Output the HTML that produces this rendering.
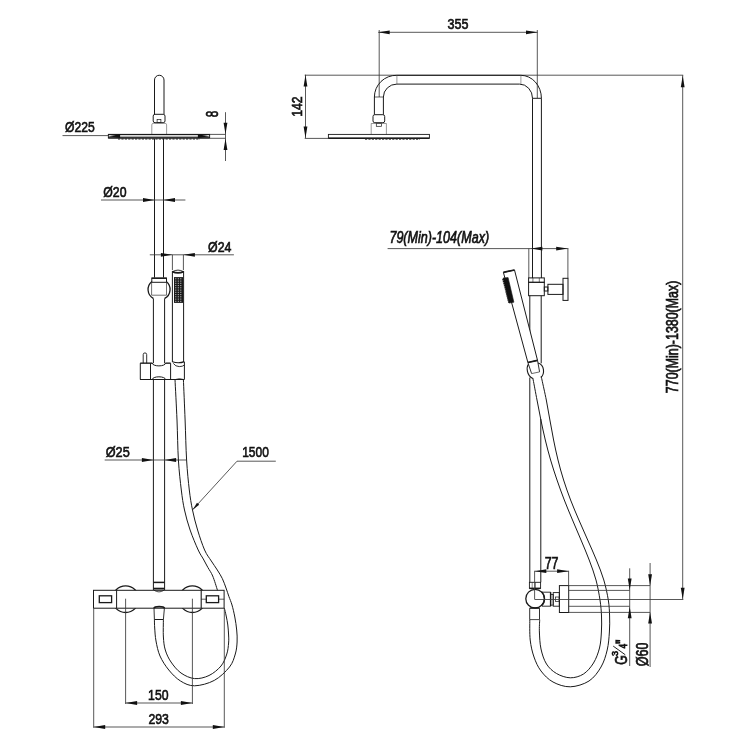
<!DOCTYPE html>
<html><head><meta charset="utf-8"><style>
html,body{margin:0;padding:0;background:#fff;}
svg{display:block;will-change:transform;}
text{font-family:"Liberation Sans",sans-serif;}
</style></head><body>
<svg width="746" height="746" viewBox="0 0 746 746">
<rect width="746" height="746" fill="#fff"/>
<path d="M154.5,114.3 V80 A4.75,4.75 0 0 1 164,80 V114.3" stroke="#1a1a1a" stroke-width="1.0" fill="none"/>
<rect x="153.2" y="114.3" width="11.8" height="8.4" rx="1.8" stroke="#1a1a1a" stroke-width="1.0" fill="none"/>
<rect x="157.1" y="119.6" width="3.8" height="2.8" rx="0" stroke="#1a1a1a" stroke-width="0.7" fill="none"/>
<path d="M151.8,134.1 V124.8 Q151.8,123.4 153.2,123.4 H165.2 Q166.6,123.4 166.6,124.8 V134.1" stroke="#555" stroke-width="0.6" fill="none"/>
<rect x="108.4" y="134.4" width="101.2" height="3.6" rx="0" stroke="#1a1a1a" stroke-width="1.0" fill="none"/>
<line x1="108.4" y1="134.5" x2="209.6" y2="134.5" stroke="#1a1a1a" stroke-width="1.2"/>
<line x1="108.4" y1="137.8" x2="209.6" y2="137.8" stroke="#1a1a1a" stroke-width="1.3"/>
<line x1="118" y1="139" x2="200" y2="139" stroke="#222" stroke-width="1" stroke-dasharray="2.2 1.2"/>
<line x1="62.5" y1="135.6" x2="108.3" y2="135.6" stroke="#3a3a3a" stroke-width="0.85"/>
<line x1="108.3" y1="136.2" x2="209.6" y2="136.2" stroke="#555" stroke-width="0.7"/>
<path d="M108.60,136.20 L120.10,134.30 L120.10,138.10 Z" fill="#111"/>
<path d="M209.40,136.20 L197.90,138.10 L197.90,134.30 Z" fill="#111"/>
<line x1="209.8" y1="134.4" x2="225.5" y2="134.4" stroke="#3a3a3a" stroke-width="0.85"/>
<line x1="209.8" y1="138.3" x2="225.5" y2="138.3" stroke="#3a3a3a" stroke-width="0.85"/>
<line x1="225.5" y1="112.2" x2="225.5" y2="161" stroke="#3a3a3a" stroke-width="0.85"/>
<path d="M225.50,134.20 L223.60,122.70 L227.40,122.70 Z" fill="#111"/>
<path d="M225.50,138.60 L227.40,150.10 L223.60,150.10 Z" fill="#111"/>
<line x1="154.5" y1="138.6" x2="154.5" y2="277.6" stroke="#1a1a1a" stroke-width="1.0"/>
<line x1="163.5" y1="138.6" x2="163.5" y2="277.6" stroke="#1a1a1a" stroke-width="1.0"/>
<line x1="101" y1="200" x2="185.4" y2="200" stroke="#3a3a3a" stroke-width="0.85"/>
<path d="M154.50,200.00 L143.00,201.90 L143.00,198.10 Z" fill="#111"/>
<path d="M163.50,200.00 L175.00,198.10 L175.00,201.90 Z" fill="#111"/>
<line x1="149.8" y1="254.8" x2="233.9" y2="254.8" stroke="#3a3a3a" stroke-width="0.85"/>
<path d="M172.40,254.80 L160.90,256.70 L160.90,252.90 Z" fill="#111"/>
<path d="M183.40,254.80 L194.90,252.90 L194.90,256.70 Z" fill="#111"/>
<line x1="172.4" y1="254.8" x2="172.4" y2="270" stroke="#3a3a3a" stroke-width="0.85"/>
<line x1="183.4" y1="254.8" x2="183.4" y2="270" stroke="#3a3a3a" stroke-width="0.85"/>
<rect x="151.8" y="278" width="14.7" height="4.3" rx="0" stroke="#1a1a1a" stroke-width="1.0" fill="none"/>
<line x1="151.8" y1="278.3" x2="166.5" y2="278.3" stroke="#1a1a1a" stroke-width="1.3"/>
<path d="M151.9,281.4 A10.3,10.3 0 0 0 153.3,298.4" stroke="#1a1a1a" stroke-width="1.3" fill="none"/>
<path d="M166.3,281.4 A10.3,10.3 0 0 1 164.7,298.4" stroke="#1a1a1a" stroke-width="1.3" fill="none"/>
<path d="M151.6,282.3 V295.2 H166.5 V282.3" stroke="#333" stroke-width="0.7" fill="none"/>
<line x1="153.4" y1="298.4" x2="153.4" y2="590.3" stroke="#1a1a1a" stroke-width="1.0"/>
<line x1="164.6" y1="298.4" x2="164.6" y2="590.3" stroke="#1a1a1a" stroke-width="1.0"/>
<path d="M172.4,362 V271" stroke="#1a1a1a" stroke-width="1.0" fill="none"/>
<path d="M183.6,362 V271" stroke="#1a1a1a" stroke-width="1.0" fill="none"/>
<path d="M172.4,271.8 Q178,268.4 183.6,271.8" stroke="#1a1a1a" stroke-width="0.9" fill="none"/>
<path d="M172.4,271.6 Q178,274.3 183.6,271.6" stroke="#1a1a1a" stroke-width="1.8" fill="none"/>
<rect x="174" y="277.1" width="9" height="25.8" rx="0" stroke="#1a1a1a" stroke-width="0" fill="#1a1a1a"/>
<rect x="175.3" y="278.3" width="1.0" height="1.0" fill="#ddd"/>
<rect x="177.8" y="278.3" width="1.0" height="1.0" fill="#ddd"/>
<rect x="180.3" y="278.3" width="1.0" height="1.0" fill="#ddd"/>
<rect x="175.3" y="280.6" width="1.0" height="1.0" fill="#ddd"/>
<rect x="177.8" y="280.6" width="1.0" height="1.0" fill="#ddd"/>
<rect x="180.3" y="280.6" width="1.0" height="1.0" fill="#ddd"/>
<rect x="175.3" y="282.8" width="1.0" height="1.0" fill="#ddd"/>
<rect x="177.8" y="282.8" width="1.0" height="1.0" fill="#ddd"/>
<rect x="180.3" y="282.8" width="1.0" height="1.0" fill="#ddd"/>
<rect x="175.3" y="285.1" width="1.0" height="1.0" fill="#ddd"/>
<rect x="177.8" y="285.1" width="1.0" height="1.0" fill="#ddd"/>
<rect x="180.3" y="285.1" width="1.0" height="1.0" fill="#ddd"/>
<rect x="175.3" y="287.3" width="1.0" height="1.0" fill="#ddd"/>
<rect x="177.8" y="287.3" width="1.0" height="1.0" fill="#ddd"/>
<rect x="180.3" y="287.3" width="1.0" height="1.0" fill="#ddd"/>
<rect x="175.3" y="289.6" width="1.0" height="1.0" fill="#ddd"/>
<rect x="177.8" y="289.6" width="1.0" height="1.0" fill="#ddd"/>
<rect x="180.3" y="289.6" width="1.0" height="1.0" fill="#ddd"/>
<rect x="175.3" y="291.8" width="1.0" height="1.0" fill="#ddd"/>
<rect x="177.8" y="291.8" width="1.0" height="1.0" fill="#ddd"/>
<rect x="180.3" y="291.8" width="1.0" height="1.0" fill="#ddd"/>
<rect x="175.3" y="294.1" width="1.0" height="1.0" fill="#ddd"/>
<rect x="177.8" y="294.1" width="1.0" height="1.0" fill="#ddd"/>
<rect x="180.3" y="294.1" width="1.0" height="1.0" fill="#ddd"/>
<rect x="175.3" y="296.3" width="1.0" height="1.0" fill="#ddd"/>
<rect x="177.8" y="296.3" width="1.0" height="1.0" fill="#ddd"/>
<rect x="180.3" y="296.3" width="1.0" height="1.0" fill="#ddd"/>
<rect x="175.3" y="298.6" width="1.0" height="1.0" fill="#ddd"/>
<rect x="177.8" y="298.6" width="1.0" height="1.0" fill="#ddd"/>
<rect x="180.3" y="298.6" width="1.0" height="1.0" fill="#ddd"/>
<rect x="175.3" y="300.8" width="1.0" height="1.0" fill="#ddd"/>
<rect x="177.8" y="300.8" width="1.0" height="1.0" fill="#ddd"/>
<rect x="180.3" y="300.8" width="1.0" height="1.0" fill="#ddd"/>
<path d="M140.3,363.2 H152.3 A6.6,2.7 0 0 0 165.5,363.2 H170.6 M170.6,379.5 H165.5 A6.6,2.7 0 0 0 152.3,379.5 H140.3 Z" stroke="#1a1a1a" stroke-width="1.0" fill="#fff"/>
<rect x="141" y="363.7" width="43" height="15.3" fill="#fff"/>
<path d="M140.3,363.2 H152.3 A6.6,2.7 0 0 0 165.5,363.2 H170.6" stroke="#1a1a1a" stroke-width="1.0" fill="none"/>
<path d="M140.3,379.5 H152.3 A6.6,2.7 0 0 1 165.5,379.5 H184.4" stroke="#1a1a1a" stroke-width="1.0" fill="none"/>
<path d="M140.3,363.2 V379.5 M184.4,362 V379.5" stroke="#1a1a1a" stroke-width="1.0" fill="none"/>
<line x1="150.5" y1="363.2" x2="150.5" y2="379.5" stroke="#1a1a1a" stroke-width="1.0"/>
<line x1="170.6" y1="363.2" x2="170.6" y2="379.5" stroke="#1a1a1a" stroke-width="1.0"/>
<path d="M143.2,363.2 V354.6 Q143.2,352.9 144.95,352.9 Q146.7,352.9 146.7,354.6 V363.2" stroke="#1a1a1a" stroke-width="0.9" fill="none"/>
<path d="M172.4,361.8 Q178.7,363.8 184.4,361.6" stroke="#1a1a1a" stroke-width="1.2" fill="none"/>
<path d="M173.3,363.4 Q175.5,366.6 179.3,366.6 Q182.8,366.6 184.4,365" stroke="#1a1a1a" stroke-width="0.9" fill="none"/>
<path d="M175.5,379.5 Q179.5,377.6 183.4,379.5" stroke="#1a1a1a" stroke-width="0.7" fill="none"/>
<line x1="104.7" y1="460" x2="186" y2="460" stroke="#3a3a3a" stroke-width="0.85"/>
<path d="M153.40,460.00 L141.90,461.90 L141.90,458.10 Z" fill="#111"/>
<path d="M164.60,460.00 L176.10,458.10 L176.10,461.90 Z" fill="#111"/>
<line x1="237" y1="461.2" x2="275.8" y2="461.2" stroke="#3a3a3a" stroke-width="0.85"/>
<line x1="237" y1="461.2" x2="192.7" y2="509.7" stroke="#3a3a3a" stroke-width="0.85"/>
<path d="M192.70,509.70 L196.99,502.78 L199.20,504.80 Z" fill="#111"/>
<line x1="153.4" y1="582.4" x2="164.6" y2="582.4" stroke="#1a1a1a" stroke-width="1.5"/>
<line x1="153.4" y1="588.6" x2="164.6" y2="588.6" stroke="#1a1a1a" stroke-width="1.8"/>
<circle cx="125.6" cy="599.2" r="13.3" fill="none" stroke="#1a1a1a" stroke-width="1.3"/>
<circle cx="192.4" cy="599.2" r="13.3" fill="none" stroke="#1a1a1a" stroke-width="1.3"/>
<rect x="93.5" y="590.3" width="130.6" height="17.9" rx="0" stroke="#1a1a1a" stroke-width="1.0" fill="#fff"/>
<line x1="116.6" y1="590.3" x2="116.6" y2="608.2" stroke="#1a1a1a" stroke-width="1.0"/>
<line x1="201.2" y1="590.3" x2="201.2" y2="608.2" stroke="#1a1a1a" stroke-width="1.1"/>
<path d="M154,590.2 Q159,593.6 164,590.2" stroke="#1a1a1a" stroke-width="0.8" fill="none"/>
<rect x="99.3" y="595.8" width="12.3" height="6.8" rx="0" stroke="#1a1a1a" stroke-width="1.3" fill="none"/>
<rect x="206.3" y="595.8" width="12.3" height="6.8" rx="0" stroke="#1a1a1a" stroke-width="1.3" fill="none"/>
<line x1="201.2" y1="599.2" x2="206.3" y2="599.2" stroke="#1a1a1a" stroke-width="0.7"/>
<line x1="218.6" y1="599.2" x2="224.1" y2="599.2" stroke="#1a1a1a" stroke-width="0.7"/>
<path d="M183.40,379.50 C183.68,386.25 184.57,406.58 185.10,420.00 C185.63,433.42 185.90,448.33 186.60,460.00 C187.30,471.67 188.32,481.67 189.30,490.00 C190.28,498.33 191.12,503.33 192.50,510.00 C193.88,516.67 195.58,523.33 197.60,530.00 C199.62,536.67 202.32,544.83 204.60,550.00 C206.88,555.17 209.18,557.67 211.30,561.00 C213.42,564.33 215.47,567.08 217.30,570.00 C219.13,572.92 220.85,575.50 222.30,578.50 C223.75,581.50 224.90,585.00 226.00,588.00 C227.10,591.00 227.90,593.67 228.90,596.50 C229.90,599.33 231.02,601.58 232.00,605.00 C232.98,608.42 234.02,612.83 234.80,617.00 C235.58,621.17 236.32,625.83 236.70,630.00 C237.08,634.17 237.33,638.00 237.10,642.00 C236.87,646.00 236.57,649.83 235.30,654.00 C234.03,658.17 233.00,662.60 229.50,667.00 C226.00,671.40 220.12,677.27 214.30,680.40 C208.48,683.53 200.23,685.70 194.60,685.80 C188.97,685.90 184.80,683.63 180.50,681.00 C176.20,678.37 172.22,674.17 168.80,670.00 C165.38,665.83 162.13,660.83 160.00,656.00 C157.87,651.17 156.88,645.67 156.00,641.00 C155.12,636.33 154.97,631.58 154.70,628.00 C154.43,624.42 154.45,620.92 154.40,619.50" stroke="#1a1a1a" stroke-width="1.0" fill="none"/>
<path d="M175.00,379.50 C175.33,386.25 176.43,406.58 177.00,420.00 C177.57,433.42 177.68,448.33 178.40,460.00 C179.12,471.67 180.28,481.67 181.30,490.00 C182.32,498.33 183.03,503.33 184.50,510.00 C185.97,516.67 187.82,523.33 190.10,530.00 C192.38,536.67 196.00,545.17 198.20,550.00 C200.40,554.83 201.68,556.08 203.30,559.00 C204.92,561.92 206.33,564.67 207.90,567.50 C209.47,570.33 211.10,572.20 212.70,576.00 C214.30,579.80 216.70,587.92 217.50,590.30" stroke="#1a1a1a" stroke-width="1.0" fill="none"/>
<path d="M224.40,608.20 C224.70,609.50 225.63,613.20 226.20,616.00 C226.77,618.80 227.40,621.83 227.80,625.00 C228.20,628.17 228.47,632.00 228.60,635.00 C228.73,638.00 228.90,639.83 228.60,643.00 C228.30,646.17 228.07,650.17 226.80,654.00 C225.53,657.83 223.97,662.42 221.00,666.00 C218.03,669.58 213.40,673.40 209.00,675.50 C204.60,677.60 199.27,679.02 194.60,678.60 C189.93,678.18 184.93,675.77 181.00,673.00 C177.07,670.23 173.62,665.83 171.00,662.00 C168.38,658.17 166.57,654.17 165.30,650.00 C164.03,645.83 163.72,642.08 163.40,637.00 C163.08,631.92 163.40,622.42 163.40,619.50" stroke="#1a1a1a" stroke-width="1.0" fill="none"/>
<path d="M154,608.2 L154.4,619.5 M164.4,608.2 L163.4,619.5" stroke="#1a1a1a" stroke-width="0.9" fill="none"/>
<path d="M154,608.2 Q154.5,606.6 159.2,606.6 Q163.9,606.6 164.4,608.2" stroke="#1a1a1a" stroke-width="1.8" fill="none"/>
<line x1="154.4" y1="619.5" x2="163.4" y2="619.5" stroke="#1a1a1a" stroke-width="1.0"/>
<line x1="125.6" y1="598.7" x2="125.6" y2="704" stroke="#3a3a3a" stroke-width="0.85"/>
<line x1="192.4" y1="598.7" x2="192.4" y2="704" stroke="#3a3a3a" stroke-width="0.85"/>
<line x1="125.6" y1="703" x2="192.4" y2="703" stroke="#3a3a3a" stroke-width="0.85"/>
<path d="M125.60,703.00 L137.10,701.10 L137.10,704.90 Z" fill="#111"/>
<path d="M192.40,703.00 L180.90,704.90 L180.90,701.10 Z" fill="#111"/>
<line x1="93.7" y1="608.5" x2="93.7" y2="727.8" stroke="#3a3a3a" stroke-width="0.85"/>
<line x1="224.3" y1="608.5" x2="224.3" y2="727.8" stroke="#3a3a3a" stroke-width="0.85"/>
<line x1="93.7" y1="727" x2="224.3" y2="727" stroke="#3a3a3a" stroke-width="0.85"/>
<path d="M93.70,727.00 L105.20,725.10 L105.20,728.90 Z" fill="#111"/>
<path d="M224.30,727.00 L212.80,728.90 L212.80,725.10 Z" fill="#111"/>
<line x1="378.2" y1="32.3" x2="537.5" y2="32.3" stroke="#3a3a3a" stroke-width="0.85"/>
<path d="M378.20,32.30 L389.70,30.40 L389.70,34.20 Z" fill="#111"/>
<path d="M537.50,32.30 L526.00,34.20 L526.00,30.40 Z" fill="#111"/>
<line x1="379.2" y1="30" x2="379.2" y2="97" stroke="#3a3a3a" stroke-width="0.85"/>
<line x1="537.3" y1="30" x2="537.3" y2="98" stroke="#3a3a3a" stroke-width="0.85"/>
<line x1="304.7" y1="75.2" x2="683.2" y2="75.2" stroke="#3a3a3a" stroke-width="0.85"/>
<line x1="305.5" y1="74.7" x2="305.5" y2="138.2" stroke="#3a3a3a" stroke-width="0.85"/>
<path d="M305.50,75.00 L307.40,86.50 L303.60,86.50 Z" fill="#111"/>
<path d="M305.50,138.00 L303.60,126.50 L307.40,126.50 Z" fill="#111"/>
<line x1="304.7" y1="138.4" x2="328.4" y2="138.4" stroke="#3a3a3a" stroke-width="0.85"/>
<path d="M374.4,114.7 V97 A22,21.7 0 0 1 396.9,75.3 H520.9 A20.6,23 0 0 1 541.4,98.3 V278" stroke="#1a1a1a" stroke-width="1.0" fill="none"/>
<path d="M383.4,114.7 V97 A13.5,12.9 0 0 1 396.9,84.1 H519.5 A13,14.2 0 0 1 532.5,98.3 V278" stroke="#1a1a1a" stroke-width="1.0" fill="none"/>
<line x1="396.9" y1="75.3" x2="396.9" y2="84.1" stroke="#555" stroke-width="0.6"/>
<line x1="520.9" y1="75.3" x2="520.9" y2="84.1" stroke="#555" stroke-width="0.6"/>
<line x1="374.4" y1="97" x2="383.4" y2="97" stroke="#1a1a1a" stroke-width="0.7"/>
<line x1="532.5" y1="98.3" x2="541.4" y2="98.3" stroke="#1a1a1a" stroke-width="1.0"/>
<rect x="373" y="114.7" width="11.7" height="8" rx="1.8" stroke="#1a1a1a" stroke-width="1.0" fill="none"/>
<rect x="376.3" y="123.5" width="5.1" height="2.8" rx="0" stroke="#1a1a1a" stroke-width="0.7" fill="none"/>
<path d="M371.2,134.3 V123.5 H386.4 V134.3" stroke="#555" stroke-width="0.6" fill="none"/>
<rect x="328.4" y="134.4" width="101" height="3.8" rx="0" stroke="#1a1a1a" stroke-width="0.9" fill="none"/>
<line x1="328.4" y1="138.2" x2="429.4" y2="138.2" stroke="#1a1a1a" stroke-width="1.5"/>
<line x1="365" y1="139.3" x2="420" y2="139.3" stroke="#333" stroke-width="0.9" stroke-dasharray="2.2 1.2"/>
<line x1="387.6" y1="248.6" x2="568.4" y2="248.6" stroke="#3a3a3a" stroke-width="0.85"/>
<path d="M530.90,248.60 L542.40,246.70 L542.40,250.50 Z" fill="#111"/>
<path d="M567.70,248.60 L556.20,250.50 L556.20,246.70 Z" fill="#111"/>
<line x1="528.8" y1="248.6" x2="528.8" y2="278" stroke="#3a3a3a" stroke-width="0.85"/>
<line x1="567.9" y1="248.6" x2="567.9" y2="278.3" stroke="#3a3a3a" stroke-width="0.85"/>
<rect x="528.6" y="277.9" width="15.7" height="4.4" rx="0" stroke="#1a1a1a" stroke-width="1.0" fill="none"/>
<line x1="532.9" y1="277.9" x2="532.9" y2="282.3" stroke="#1a1a1a" stroke-width="0.6"/>
<line x1="539.3" y1="277.9" x2="539.3" y2="282.3" stroke="#1a1a1a" stroke-width="0.6"/>
<rect x="528.6" y="282.3" width="15.7" height="13.4" rx="0" stroke="#1a1a1a" stroke-width="1.0" fill="none"/>
<rect x="544.3" y="287" width="3.6" height="4" rx="0" stroke="#1a1a1a" stroke-width="1.0" fill="none"/>
<rect x="547.9" y="284.3" width="15.1" height="10.1" rx="0" stroke="#1a1a1a" stroke-width="1.0" fill="none"/>
<rect x="563" y="278.3" width="5" height="22.1" rx="0" stroke="#1a1a1a" stroke-width="1.0" fill="none"/>
<line x1="529.8" y1="295.7" x2="529.8" y2="335" stroke="#1a1a1a" stroke-width="1.0"/>
<line x1="529.8" y1="377.5" x2="529.8" y2="582.2" stroke="#1a1a1a" stroke-width="1.0"/>
<line x1="541.2" y1="295.7" x2="541.2" y2="363.3" stroke="#1a1a1a" stroke-width="1.0"/>
<line x1="540.8" y1="419" x2="540.8" y2="582.2" stroke="#1a1a1a" stroke-width="1.0"/>
<path d="M503.4,272.4 L514.5,270 L537.5,360.3 L527.9,362.5 Z" stroke="#1a1a1a" stroke-width="1.0" fill="#fff"/>
<path d="M503,278.1 L508.1,277.6 L513.9,302.2 L509.1,303.1 Z" stroke="#1a1a1a" stroke-width="0.6" fill="#111"/>
<path d="M503.2,279 L509.3,303" stroke="#111" stroke-width="2.2" stroke-dasharray="1.2 0.9"/>
<path d="M503.4,272.4 L514.5,270" stroke="#1a1a1a" stroke-width="1.7" fill="none"/>
<path d="M527.9,362.5 L537.5,360.3" stroke="#1a1a1a" stroke-width="1.7" fill="none"/>
<path d="M527.9,362.5 L531.6,373.6" stroke="#1a1a1a" stroke-width="0.9" fill="none"/>
<path d="M537.5,360.3 L539.6,371.9" stroke="#1a1a1a" stroke-width="0.9" fill="none"/>
<line x1="531.6" y1="373.6" x2="539.6" y2="371.9" stroke="#444" stroke-width="0.8"/>
<path d="M528.4,364.2 C526.2,367.5 526.6,375.5 532.7,378.6" stroke="#1a1a1a" stroke-width="1.1" fill="none"/>
<path d="M538,363 C544.6,364.8 545,374 540.8,377.5" stroke="#1a1a1a" stroke-width="1.1" fill="none"/>
<path d="M541.30,376.60 C541.42,377.17 541.17,376.10 542.00,380.00 C542.83,383.90 544.98,393.33 546.30,400.00 C547.62,406.67 548.68,413.33 549.90,420.00 C551.12,426.67 552.25,433.33 553.60,440.00 C554.95,446.67 556.33,453.33 558.00,460.00 C559.67,466.67 561.50,473.33 563.60,480.00 C565.70,486.67 568.05,493.33 570.60,500.00 C573.15,506.67 576.05,513.33 578.90,520.00 C581.75,526.67 584.78,533.33 587.70,540.00 C590.62,546.67 593.72,553.33 596.40,560.00 C599.08,566.67 601.82,573.33 603.80,580.00 C605.78,586.67 607.33,594.00 608.30,600.00 C609.27,606.00 609.42,610.67 609.60,616.00 C609.78,621.33 609.80,626.33 609.40,632.00 C609.00,637.67 608.60,644.17 607.20,650.00 C605.80,655.83 604.03,661.83 601.00,667.00 C597.97,672.17 594.12,677.70 589.00,681.00 C583.88,684.30 576.30,686.63 570.30,686.80 C564.30,686.97 557.88,684.63 553.00,682.00 C548.12,679.37 544.17,675.17 541.00,671.00 C537.83,666.83 535.80,662.17 534.00,657.00 C532.20,651.83 530.90,646.22 530.20,640.00 C529.50,633.78 529.87,623.08 529.80,619.70" stroke="#1a1a1a" stroke-width="1.0" fill="none"/>
<path d="M532.70,378.40 C532.78,378.67 532.48,376.40 533.20,380.00 C533.92,383.60 535.72,393.33 537.00,400.00 C538.28,406.67 539.52,413.33 540.90,420.00 C542.28,426.67 543.68,433.33 545.30,440.00 C546.92,446.67 548.65,453.33 550.60,460.00 C552.55,466.67 554.72,473.33 557.00,480.00 C559.28,486.67 561.72,493.33 564.30,500.00 C566.88,506.67 569.72,513.33 572.50,520.00 C575.28,526.67 578.22,533.33 581.00,540.00 C583.78,546.67 586.70,553.33 589.20,560.00 C591.70,566.67 594.20,573.33 596.00,580.00 C597.80,586.67 599.08,594.00 600.00,600.00 C600.92,606.00 601.27,610.67 601.50,616.00 C601.73,621.33 601.73,626.67 601.40,632.00 C601.07,637.33 600.82,642.83 599.50,648.00 C598.18,653.17 596.17,658.67 593.50,663.00 C590.83,667.33 587.37,671.53 583.50,674.00 C579.63,676.47 574.80,677.88 570.30,677.80 C565.80,677.72 560.47,675.80 556.50,673.50 C552.53,671.20 549.08,668.08 546.50,664.00 C543.92,659.92 542.18,654.33 541.00,649.00 C539.82,643.67 539.62,636.88 539.40,632.00 C539.18,627.12 539.65,621.75 539.70,619.70" stroke="#1a1a1a" stroke-width="1.0" fill="none"/>
<rect x="529.4" y="582.3" width="11.2" height="6.0" rx="0" stroke="#1a1a1a" stroke-width="0.9" fill="none"/>
<line x1="529.4" y1="588.4" x2="540.6" y2="588.4" stroke="#1a1a1a" stroke-width="1.4"/>
<line x1="532.2" y1="582.3" x2="532.2" y2="588.3" stroke="#1a1a1a" stroke-width="0.5"/>
<line x1="535.5" y1="582.3" x2="535.5" y2="588.3" stroke="#1a1a1a" stroke-width="0.5"/>
<path d="M542,592.2 H550.6 V606.2 H542" stroke="#1a1a1a" stroke-width="0.9" fill="none"/>
<line x1="550.6" y1="592.2" x2="550.6" y2="606.2" stroke="#1a1a1a" stroke-width="1.4"/>
<rect x="550.6" y="594.4" width="2.6" height="10.7" rx="0" stroke="#1a1a1a" stroke-width="0.8" fill="none"/>
<rect x="553.2" y="592.6" width="6.1" height="13.6" rx="0" stroke="#1a1a1a" stroke-width="0.9" fill="none"/>
<rect x="555.4" y="597" width="3.7" height="4.4" rx="0" stroke="#1a1a1a" stroke-width="0.7" fill="none"/>
<circle cx="535.1" cy="598.7" r="9.3" fill="#fff" stroke="#1a1a1a" stroke-width="1.3"/>
<path d="M541.5,591.6 A9.8,9.8 0 0 1 541.5,605.8" stroke="#1a1a1a" stroke-width="1.3" fill="none"/>
<path d="M529.7,619.6 V608.2 M539.5,608.2 V619.6" stroke="#1a1a1a" stroke-width="0.9" fill="none"/>
<line x1="529.7" y1="608.1" x2="539.5" y2="608.1" stroke="#1a1a1a" stroke-width="1.5"/>
<line x1="529.7" y1="619.6" x2="539.5" y2="619.6" stroke="#1a1a1a" stroke-width="0.8"/>
<rect x="559.4" y="585.6" width="9.3" height="26.9" rx="0" stroke="#1a1a1a" stroke-width="1.0" fill="none"/>
<line x1="568.7" y1="585.6" x2="650" y2="585.6" stroke="#3a3a3a" stroke-width="0.85"/>
<line x1="568.7" y1="590.4" x2="629.7" y2="590.4" stroke="#3a3a3a" stroke-width="0.85"/>
<line x1="534.8" y1="599.5" x2="683.3" y2="599.5" stroke="#3a3a3a" stroke-width="0.85"/>
<line x1="568.7" y1="606.3" x2="629.7" y2="606.3" stroke="#3a3a3a" stroke-width="0.85"/>
<line x1="568.7" y1="612.4" x2="650" y2="612.4" stroke="#3a3a3a" stroke-width="0.85"/>
<line x1="534.8" y1="571.2" x2="568.6" y2="571.2" stroke="#3a3a3a" stroke-width="0.85"/>
<line x1="534.6" y1="570.8" x2="534.6" y2="599.5" stroke="#3a3a3a" stroke-width="0.85"/>
<line x1="568.6" y1="570.8" x2="568.6" y2="585.5" stroke="#3a3a3a" stroke-width="0.85"/>
<path d="M534.80,571.20 L546.30,569.30 L546.30,573.10 Z" fill="#111"/>
<path d="M568.60,571.20 L557.10,573.10 L557.10,569.30 Z" fill="#111"/>
<line x1="629.7" y1="568.3" x2="629.7" y2="666" stroke="#3a3a3a" stroke-width="0.85"/>
<path d="M629.70,590.10 L627.80,578.60 L631.60,578.60 Z" fill="#111"/>
<path d="M629.70,606.70 L631.60,618.20 L627.80,618.20 Z" fill="#111"/>
<line x1="650.1" y1="563" x2="650.1" y2="667" stroke="#3a3a3a" stroke-width="0.85"/>
<path d="M650.10,585.70 L648.20,574.20 L652.00,574.20 Z" fill="#111"/>
<path d="M650.10,611.90 L652.00,623.40 L648.20,623.40 Z" fill="#111"/>
<line x1="613.2" y1="646.1" x2="625.3" y2="654.8" stroke="#222" stroke-width="1.0"/>
<line x1="682.7" y1="75.2" x2="682.7" y2="599.3" stroke="#3a3a3a" stroke-width="0.85"/>
<path d="M682.70,75.70 L684.60,87.20 L680.80,87.20 Z" fill="#111"/>
<path d="M682.70,599.30 L680.80,587.80 L684.60,587.80 Z" fill="#111"/>
<text x="0" y="0" transform="translate(64.934 132.039) scale(0.8102 0.9247)" font-size="15" fill="#111" stroke="#111" stroke-width="0.65">Ø225</text>
<text x="0" y="0" transform="translate(103.314 197.273) scale(0.8184 1.0263)" font-size="15" fill="#111" stroke="#111" stroke-width="0.65">Ø20</text>
<text x="0" y="0" transform="translate(208.099 251.618) scale(0.8244 0.9413)" font-size="15" fill="#111" stroke="#111" stroke-width="0.65">Ø24</text>
<text x="0" y="0" transform="translate(105.660 456.820) scale(0.8486 0.9633)" font-size="15" fill="#111" stroke="#111" stroke-width="0.65">Ø25</text>
<text x="0" y="0" transform="translate(242.170 456.828) scale(0.7999 0.9692)" font-size="15" fill="#111" stroke="#111" stroke-width="0.65">1500</text>
<text x="0" y="0" transform="translate(148.111 700.214) scale(0.8167 0.9785)" font-size="15" fill="#111" stroke="#111" stroke-width="0.65">150</text>
<text x="0" y="0" transform="translate(148.434 724.441) scale(0.8177 1.0187)" font-size="15" fill="#111" stroke="#111" stroke-width="0.65">293</text>
<text x="0" y="0" transform="translate(447.409 29.370) scale(0.8382 0.9872)" font-size="15" fill="#111" stroke="#111" stroke-width="0.65">355</text>
<text x="0" y="0" transform="translate(302.451 116.859) rotate(-90) scale(0.8091 1.0236)" font-size="15" fill="#111" stroke="#111" stroke-width="0.65">142</text>
<text x="0" y="0" transform="translate(389.404 243.082) scale(0.8367 1.0502)" font-size="15" font-style="italic" fill="#111" stroke="#111" stroke-width="0.65">79(Min)-104(Max)</text>
<text x="0" y="0" transform="translate(217.681 117.225) rotate(-90) scale(0.7855 1.0458)" font-size="15" fill="#111" stroke="#111" stroke-width="0.65">8</text>
<text x="0" y="0" transform="translate(544.668 568.502) scale(0.8289 1.1246)" font-size="15" fill="#111" stroke="#111" stroke-width="0.65">77</text>
<text x="0" y="0" transform="translate(647.547 666.344) rotate(-90) scale(0.8365 1.0565)" font-size="15" fill="#111" stroke="#111" stroke-width="0.65">Ø60</text>
<text x="0" y="0" transform="translate(678.354 393.191) rotate(-90) scale(0.8292 1.0568)" font-size="15" fill="#111" stroke="#111" stroke-width="0.65">770(Min)-1380(Max)</text>
<text x="0" y="0" transform="translate(626.512 664.870) rotate(-90) scale(0.8184 1.0394)" font-size="15" fill="#111" stroke="#111" stroke-width="0.65">G</text>
<text x="0" y="0" transform="translate(617.813 656.120) rotate(-90) scale(1.0078 1.0575)" font-size="9" fill="#111" stroke="#111" stroke-width="0.65">3</text>
<text x="0" y="0" transform="translate(626.623 648.523) rotate(-90) scale(0.9268 1.2923)" font-size="9" fill="#111" stroke="#111" stroke-width="0.65">4</text>
<text x="0" y="0" transform="translate(628.323 643.759) rotate(-90) scale(1.2380 1.9282)" font-size="9" fill="#111" stroke="#111" stroke-width="0.65">&quot;</text>
</svg></body></html>
